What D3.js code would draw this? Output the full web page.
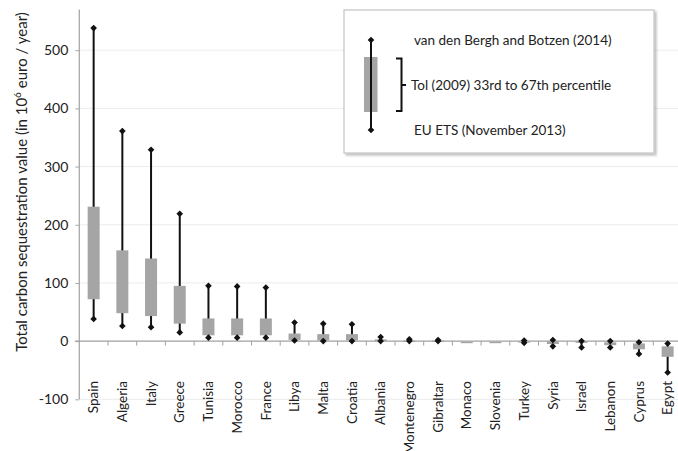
<!DOCTYPE html>
<html>
<head>
<meta charset="utf-8">
<script src="https://cdn.jsdelivr.net/npm/d3@7"></script>
<style>
  html, body { margin: 0; padding: 0; background: #fff; }
  svg { display: block; font-family: Lato, "Open Sans", sans-serif; }
</style>
</head>
<body>
<svg id="chart" width="678" height="451"></svg>
<script>
// Countries, ordered as on the category axis
const countries = ["Spain", "Algeria", "Italy", "Greece", "Tunisia", "Morocco", "France",
  "Libya", "Malta", "Croatia", "Albania", "Montenegro", "Gibraltar", "Monaco", "Slovenia",
  "Turkey", "Syria", "Israel", "Lebanon", "Cyprus", "Egypt"];

// van den Bergh and Botzen (2014) — upper marker (10^6 euro / year)
const vdbBotzen = [538, 361, 329, 219, 95, 94, 92, 32, 30, 29, 7, 3, 2, null, null, 1, 2, 0, 0, -2, -4];
// Tol (2009) 33rd percentile
const tolP33 = [72, 48, 43, 30, 10, 10, 10, 2, 1, 1, 0, 0, 0, -1, -1, -2, -5, -3, -7, -14, -27];
// Tol (2009) 67th percentile
const tolP67 = [231, 156, 142, 95, 39, 39, 39, 13, 12, 12, 3, 1, 1, -3, -3, 0, 0, 0, -2, -4, -9];
// EU ETS (November 2013) — lower marker
const euEts = [38, 26, 24, 15, 6, 6, 6, 1, 0, 0, 0, 0, 0, null, null, -3, -9, -11, -11, -22, -54];

const yTicks = [-100, 0, 100, 200, 300, 400, 500];

const svg = d3.select("#chart");

// shadow for the legend frame
const defs = svg.append("defs");
const sh = defs.append("filter").attr("id", "shadow")
  .attr("x", "-5%").attr("y", "-5%").attr("width", "115%").attr("height", "120%");
sh.append("feDropShadow").attr("dx", 2).attr("dy", 2).attr("stdDeviation", 1.2)
  .attr("flood-color", "#000").attr("flood-opacity", 0.25);
const soft = defs.append("filter").attr("id", "soft")
  .attr("x", "-20%").attr("y", "-20%").attr("width", "140%").attr("height", "140%");
soft.append("feGaussianBlur").attr("stdDeviation", 0.5);

const x = d3.scaleBand().domain(countries).range([79.3, 682]).padding(0);
const y = d3.scaleLinear().domain([-100, 500]).range([399.3, 50.2]);
const cx = c => x(c) + x.bandwidth() / 2;

// horizontal gridlines
svg.append("g").selectAll("line")
  .data(yTicks.filter(t => t !== 0))
  .join("line")
  .attr("x1", 79.3).attr("x2", 678)
  .attr("y1", d => y(d)).attr("y2", d => y(d))
  .attr("stroke", "#ececec").attr("stroke-width", 1);

// value axis
const yAxis = svg.append("g").attr("transform", "translate(79.3,0)")
  .call(d3.axisLeft(y).tickValues(yTicks).tickSize(4).tickPadding(7)
    .tickFormat(d => String(d)));
yAxis.select(".domain").remove();
yAxis.append("line").attr("x1", 0).attr("x2", 0)
  .attr("y1", y(-100)).attr("y2", y(570))
  .attr("stroke", "#a8a8a8").attr("stroke-width", 1.3);
yAxis.selectAll(".tick line").attr("stroke", "#a8a8a8");
yAxis.selectAll(".tick text").attr("fill", "#222").style("font-size", "14px")
  .style("font-family", "Lato, 'Open Sans', sans-serif");

// category axis along zero
const xAxis = svg.append("g").attr("transform", `translate(0,${y(0)})`);
xAxis.append("line").attr("x1", 75).attr("x2", 678).attr("y1", 0).attr("y2", 0)
  .attr("stroke", "#a0a0a0").attr("stroke-width", 1.3);
xAxis.selectAll("line.tk")
  .data(countries.slice(1))
  .join("line").attr("class", "tk")
  .attr("x1", d => x(d)).attr("x2", d => x(d))
  .attr("y1", 0).attr("y2", 4.5)
  .attr("stroke", "#a0a0a0").attr("stroke-width", 1);

// category labels
svg.append("g").selectAll("text")
  .data(countries)
  .join("text")
  .attr("transform", d => `translate(${cx(d)},381) rotate(-90)`)
  .attr("text-anchor", "end")
  .attr("dy", "0.35em")
  .attr("fill", "#222")
  .style("font-size", "13.5px")
  .text(d => d);

// y axis title
const title = svg.append("text")
  .attr("transform", "translate(22,182) rotate(-90)")
  .attr("text-anchor", "middle").attr("dy", "0.35em")
  .attr("fill", "#222").style("font-size", "15px");
title.append("tspan").text("Total carbon sequestration value (in 10");
title.append("tspan").attr("baseline-shift", "super").style("font-size", "10px").text("6");
title.append("tspan").text(" euro / year)");

// series rows
const rows = countries.map((c, i) => ({
  c, hi: vdbBotzen[i], lo: euEts[i], p33: tolP33[i], p67: tolP67[i]
}));

const marks = svg.append("g");
const boxW = 12;
const diamond = d3.symbol().type(d3.symbolSquare).size(22);

// whiskers
marks.selectAll("line.wh")
  .data(rows.filter(r => r.hi !== null && r.lo !== null))
  .join("line").attr("class", "wh")
  .attr("x1", r => cx(r.c)).attr("x2", r => cx(r.c))
  .attr("y1", r => y(r.hi)).attr("y2", r => y(r.lo))
  .attr("stroke", "#111").attr("stroke-width", 2);

// Tol percentile boxes
marks.selectAll("rect.box")
  .data(rows)
  .join("rect").attr("class", "box")
  .attr("x", r => cx(r.c) - boxW / 2)
  .attr("width", boxW)
  .attr("y", r => y(Math.max(r.p33, r.p67)))
  .attr("height", r => Math.max(1.5, Math.abs(y(r.p33) - y(r.p67))))
  .attr("fill", "#a5a5a5")
  .attr("filter", "url(#soft)");

// diamond markers
const pts = [];
rows.forEach(r => {
  if (r.hi !== null) pts.push({ c: r.c, v: r.hi });
  if (r.lo !== null) pts.push({ c: r.c, v: r.lo });
});
marks.selectAll("path.dm")
  .data(pts)
  .join("path").attr("class", "dm")
  .attr("d", diamond)
  .attr("transform", p => `translate(${cx(p.c)},${y(p.v)}) rotate(45)`)
  .attr("fill", "#111");

// legend
const lg = svg.append("g");
lg.append("rect").attr("x", 344).attr("y", 10).attr("width", 310).attr("height", 143)
  .attr("fill", "#fff").attr("stroke", "#c4c4c4").attr("stroke-width", 1.2)
  .attr("filter", "url(#shadow)");
lg.append("rect").attr("x", 364).attr("y", 57).attr("width", 13.5).attr("height", 55)
  .attr("fill", "#a5a5a5");
lg.append("line").attr("x1", 371).attr("x2", 371).attr("y1", 40).attr("y2", 130)
  .attr("stroke", "#111").attr("stroke-width", 2);
[40, 130].forEach(v => lg.append("path").attr("d", diamond)
  .attr("transform", `translate(371,${v}) rotate(45)`).attr("fill", "#111"));
lg.append("path")
  .attr("d", "M396,58.5 H401.5 V111 H396 M401.5,85 H406")
  .attr("fill", "none").attr("stroke", "#111").attr("stroke-width", 2);
const lgText = [
  { t: "van den Bergh and Botzen (2014)", x: 414, y: 40 },
  { t: "Tol (2009) 33rd to 67th percentile", x: 411, y: 85 },
  { t: "EU ETS (November 2013)", x: 414, y: 130 }
];
lg.selectAll("text.lt").data(lgText).join("text").attr("class", "lt")
  .attr("x", d => d.x).attr("y", d => d.y).attr("dy", "0.35em")
  .attr("fill", "#222").style("font-size", "13.5px")
  .text(d => d.t);
</script>
</body>
</html>
